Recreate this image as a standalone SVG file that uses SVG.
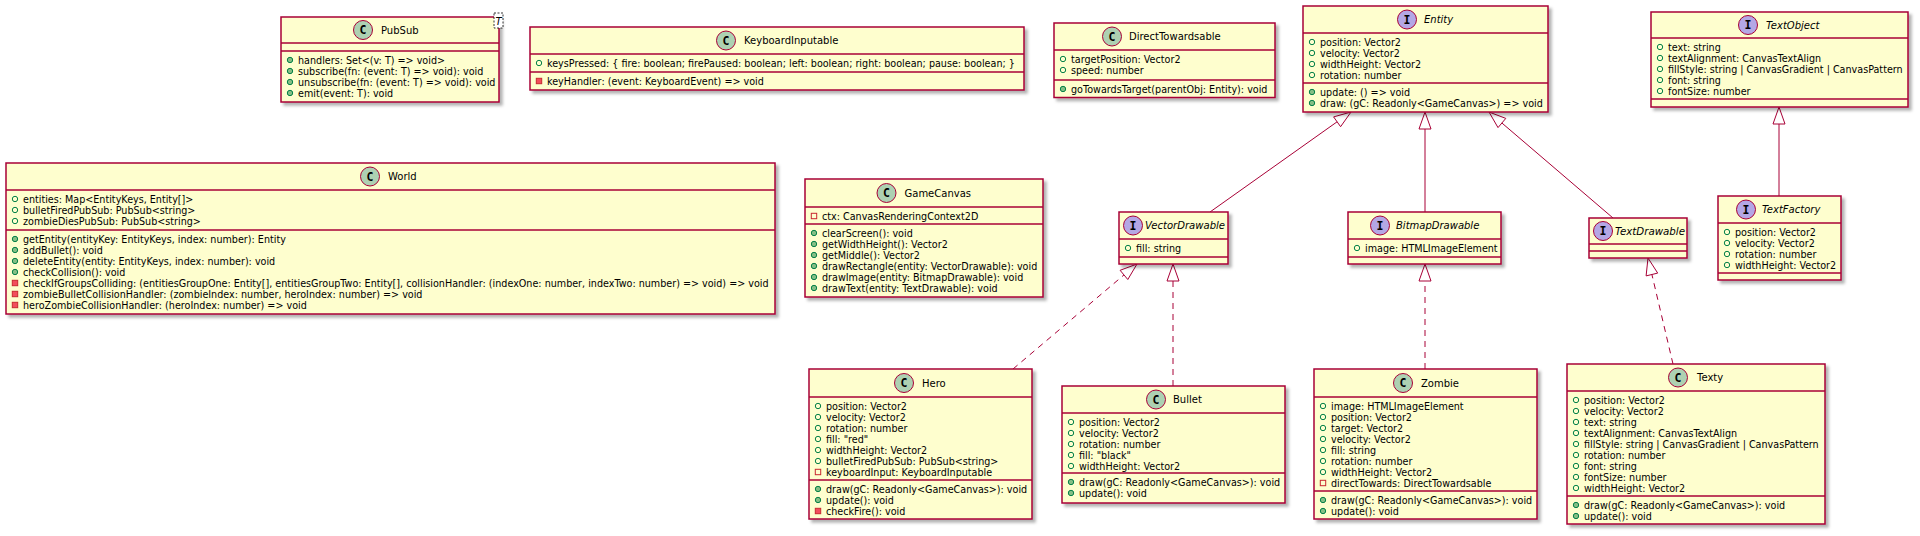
<svg xmlns="http://www.w3.org/2000/svg" xmlns:xlink="http://www.w3.org/1999/xlink" width="1920" height="536" viewBox="0 0 1920 536">
<defs>
<style>
.box{fill:#FEFECE;stroke:#A80036;stroke-width:1.5;filter:url(#sh)}
.dv{stroke:#A80036;stroke-width:1.5}
.m{font-family:'DejaVu Sans','Liberation Sans',sans-serif;font-size:9.6px;fill:#000}
.n{font-family:'DejaVu Sans','Liberation Sans',sans-serif;font-size:10px;fill:#000}
.i{font-style:italic}
.cc{fill:#ADD1B2;stroke:#A80036;stroke-width:1}
.ci{fill:#B4A7E5;stroke:#A80036;stroke-width:1}
.lt{font-family:'DejaVu Sans Mono','DejaVu Sans',monospace;font-weight:bold;font-size:11.5px;text-anchor:middle;fill:#000}
.ln{stroke:#A80036;stroke-width:1;fill:none}
.ds{stroke-dasharray:6,5}
.tri{fill:none;stroke:#A80036;stroke-width:1}
</style>
<filter id="sh" x="-3%" y="-5%" width="110%" height="125%"><feDropShadow dx="3" dy="3" stdDeviation="1.8" flood-color="#000" flood-opacity="0.3"/></filter>
<circle id="fp" r="2.7" fill="none" stroke="#038048" stroke-width="1"/>
<circle id="mp" r="2.7" fill="#84BE84" stroke="#038048" stroke-width="1"/>
<rect id="fv" x="-2.7" y="-2.7" width="5.4" height="5.4" fill="none" stroke="#C82930" stroke-width="1"/>
<rect id="mv" x="-2.7" y="-2.7" width="5.4" height="5.4" fill="#F24D5C" stroke="#C82930" stroke-width="1"/>
</defs>
<rect width="1920" height="536" fill="#FFFFFF"/>

<g id="connectors">
<line class="ln" x1="1210" y1="212" x2="1337.1" y2="121.8"/>
<polygon class="tri" points="1351,112 1340.6,126.7 1333.6,116.9"/>
<line class="ln" x1="1425" y1="212" x2="1425" y2="129"/>
<polygon class="tri" points="1425,112 1419,129 1431,129"/>
<line class="ln" x1="1613" y1="218" x2="1501.9" y2="123"/>
<polygon class="tri" points="1489,112 1505.8,118.4 1498,127.6"/>
<line class="ln" x1="1779" y1="196" x2="1779" y2="124"/>
<polygon class="tri" points="1779,107 1773,124 1785,124"/>
<line class="ln ds" x1="1013" y1="369" x2="1124" y2="274.9"/>
<polygon class="tri" points="1137,264 1127.8,279.5 1120.1,270.3"/>
<line class="ln ds" x1="1173" y1="386" x2="1173" y2="281"/>
<polygon class="tri" points="1173,264 1167,281 1179,281"/>
<line class="ln ds" x1="1425" y1="369" x2="1425" y2="281"/>
<polygon class="tri" points="1425,264 1419,281 1431,281"/>
<line class="ln ds" x1="1673" y1="364" x2="1651.9" y2="274.5"/>
<polygon class="tri" points="1648,258 1657.7,273.1 1646.1,275.9"/>
</g>

<g id="PubSub">
<rect class="box" x="281" y="17" width="218" height="85"/>
<line class="dv" x1="281" y1="43" x2="499" y2="43"/>
<line class="dv" x1="281" y1="51" x2="499" y2="51"/>
<circle class="cc" cx="363" cy="30" r="9.5"/><text class="lt" x="363" y="34">C</text>
<text class="n" x="381" y="33.5">PubSub</text>
<rect x="494" y="13" width="9" height="15" fill="#FFFFFF" stroke="#000" stroke-width="0.8" stroke-dasharray="2,1.5"/>
<text class="n i" x="498.5" y="24.5" text-anchor="middle" font-size="10px">T</text>
<use href="#mp" x="290" y="60"/><text class="m" x="298" y="63.5">handlers: Set&lt;(v: T) =&gt; void&gt;</text>
<use href="#mp" x="290" y="71"/><text class="m" x="298" y="74.5">subscribe(fn: (event: T) =&gt; void): void</text>
<use href="#mp" x="290" y="82"/><text class="m" x="298" y="85.5">unsubscribe(fn: (event: T) =&gt; void): void</text>
<use href="#mp" x="290" y="93"/><text class="m" x="298" y="96.5">emit(event: T): void</text>
</g>

<g id="KeyboardInputable">
<rect class="box" x="530" y="27" width="494" height="63"/>
<line class="dv" x1="530" y1="54" x2="1024" y2="54"/>
<line class="dv" x1="530" y1="72" x2="1024" y2="72"/>
<circle class="cc" cx="726" cy="40.5" r="9.5"/><text class="lt" x="726" y="44.5">C</text>
<text class="n" x="744" y="44">KeyboardInputable</text>
<use href="#fp" x="539" y="63"/><text class="m" x="547" y="66.5">keysPressed: { fire: boolean; firePaused: boolean; left: boolean; right: boolean; pause: boolean; }</text>
<use href="#mv" x="539" y="81"/><text class="m" x="547" y="84.5">keyHandler: (event: KeyboardEvent) =&gt; void</text>
</g>

<g id="DirectTowardsable">
<rect class="box" x="1054" y="23" width="221" height="74.5"/>
<line class="dv" x1="1054" y1="50" x2="1275" y2="50"/>
<line class="dv" x1="1054" y1="80" x2="1275" y2="80"/>
<circle class="cc" cx="1112" cy="36.5" r="9.5"/><text class="lt" x="1112" y="40.5">C</text>
<text class="n" x="1129" y="40">DirectTowardsable</text>
<use href="#fp" x="1063" y="59"/><text class="m" x="1071" y="62.5">targetPosition: Vector2</text>
<use href="#fp" x="1063" y="70"/><text class="m" x="1071" y="73.5">speed: number</text>
<use href="#mp" x="1063" y="89"/><text class="m" x="1071" y="92.5">goTowardsTarget(parentObj: Entity): void</text>
</g>

<g id="Entity">
<rect class="box" x="1303" y="6" width="245" height="106"/>
<line class="dv" x1="1303" y1="33" x2="1548" y2="33"/>
<line class="dv" x1="1303" y1="83" x2="1548" y2="83"/>
<circle class="ci" cx="1407" cy="19.5" r="9.5"/><text class="lt" x="1407" y="23.5">I</text>
<text class="n i" x="1424" y="23">Entity</text>
<use href="#fp" x="1312" y="42"/><text class="m" x="1320" y="45.5">position: Vector2</text>
<use href="#fp" x="1312" y="53"/><text class="m" x="1320" y="56.5">velocity: Vector2</text>
<use href="#fp" x="1312" y="64"/><text class="m" x="1320" y="67.5">widthHeight: Vector2</text>
<use href="#fp" x="1312" y="75"/><text class="m" x="1320" y="78.5">rotation: number</text>
<use href="#mp" x="1312" y="92"/><text class="m" x="1320" y="95.5">update: () =&gt; void</text>
<use href="#mp" x="1312" y="103"/><text class="m" x="1320" y="106.5">draw: (gC: Readonly&lt;GameCanvas&gt;) =&gt; void</text>
</g>

<g id="TextObject">
<rect class="box" x="1651" y="12" width="257" height="95"/>
<line class="dv" x1="1651" y1="38" x2="1908" y2="38"/>
<line class="dv" x1="1651" y1="99" x2="1908" y2="99"/>
<circle class="ci" cx="1748" cy="25" r="9.5"/><text class="lt" x="1748" y="29">I</text>
<text class="n i" x="1766" y="28.5">TextObject</text>
<use href="#fp" x="1660" y="47"/><text class="m" x="1668" y="50.5">text: string</text>
<use href="#fp" x="1660" y="58"/><text class="m" x="1668" y="61.5">textAlignment: CanvasTextAlign</text>
<use href="#fp" x="1660" y="69"/><text class="m" x="1668" y="72.5">fillStyle: string | CanvasGradient | CanvasPattern</text>
<use href="#fp" x="1660" y="80"/><text class="m" x="1668" y="83.5">font: string</text>
<use href="#fp" x="1660" y="91"/><text class="m" x="1668" y="94.5">fontSize: number</text>
</g>

<g id="World">
<rect class="box" x="6" y="163" width="769" height="151"/>
<line class="dv" x1="6" y1="190" x2="775" y2="190"/>
<line class="dv" x1="6" y1="230" x2="775" y2="230"/>
<circle class="cc" cx="370" cy="176.5" r="9.5"/><text class="lt" x="370" y="180.5">C</text>
<text class="n" x="388" y="180">World</text>
<use href="#fp" x="15" y="199"/><text class="m" x="23" y="202.5">entities: Map&lt;EntityKeys, Entity[]&gt;</text>
<use href="#fp" x="15" y="210"/><text class="m" x="23" y="213.5">bulletFiredPubSub: PubSub&lt;string&gt;</text>
<use href="#fp" x="15" y="221"/><text class="m" x="23" y="224.5">zombieDiesPubSub: PubSub&lt;string&gt;</text>
<use href="#mp" x="15" y="239"/><text class="m" x="23" y="242.5">getEntity(entityKey: EntityKeys, index: number): Entity</text>
<use href="#mp" x="15" y="250"/><text class="m" x="23" y="253.5">addBullet(): void</text>
<use href="#mp" x="15" y="261"/><text class="m" x="23" y="264.5">deleteEntity(entity: EntityKeys, index: number): void</text>
<use href="#mp" x="15" y="272"/><text class="m" x="23" y="275.5">checkCollision(): void</text>
<use href="#mv" x="15" y="283"/><text class="m" x="23" y="286.5">checkIfGroupsColliding: (entitiesGroupOne: Entity[], entitiesGroupTwo: Entity[], collisionHandler: (indexOne: number, indexTwo: number) =&gt; void) =&gt; void</text>
<use href="#mv" x="15" y="294"/><text class="m" x="23" y="297.5">zombieBulletCollisionHandler: (zombieIndex: number, heroIndex: number) =&gt; void</text>
<use href="#mv" x="15" y="305"/><text class="m" x="23" y="308.5">heroZombieCollisionHandler: (heroIndex: number) =&gt; void</text>
</g>

<g id="GameCanvas">
<rect class="box" x="805" y="179" width="238" height="118"/>
<line class="dv" x1="805" y1="207" x2="1043" y2="207"/>
<line class="dv" x1="805" y1="224" x2="1043" y2="224"/>
<circle class="cc" cx="886.5" cy="193" r="9.5"/><text class="lt" x="886.5" y="197">C</text>
<text class="n" x="904.5" y="196.5">GameCanvas</text>
<use href="#fv" x="814" y="216"/><text class="m" x="822" y="219.5">ctx: CanvasRenderingContext2D</text>
<use href="#mp" x="814" y="233"/><text class="m" x="822" y="236.5">clearScreen(): void</text>
<use href="#mp" x="814" y="244"/><text class="m" x="822" y="247.5">getWidthHeight(): Vector2</text>
<use href="#mp" x="814" y="255"/><text class="m" x="822" y="258.5">getMiddle(): Vector2</text>
<use href="#mp" x="814" y="266"/><text class="m" x="822" y="269.5">drawRectangle(entity: VectorDrawable): void</text>
<use href="#mp" x="814" y="277"/><text class="m" x="822" y="280.5">drawImage(entity: BitmapDrawable): void</text>
<use href="#mp" x="814" y="288"/><text class="m" x="822" y="291.5">drawText(entity: TextDrawable): void</text>
</g>

<g id="VectorDrawable">
<rect class="box" x="1119" y="212" width="109" height="52"/>
<line class="dv" x1="1119" y1="239" x2="1228" y2="239"/>
<line class="dv" x1="1119" y1="257" x2="1228" y2="257"/>
<circle class="ci" cx="1133" cy="225.5" r="9.5"/><text class="lt" x="1133" y="229.5">I</text>
<text class="n i" x="1145" y="229" textLength="80" lengthAdjust="spacingAndGlyphs">VectorDrawable</text>
<use href="#fp" x="1128" y="248"/><text class="m" x="1136" y="251.5">fill: string</text>
</g>

<g id="BitmapDrawable">
<rect class="box" x="1348" y="212" width="153" height="52"/>
<line class="dv" x1="1348" y1="239" x2="1501" y2="239"/>
<line class="dv" x1="1348" y1="257" x2="1501" y2="257"/>
<circle class="ci" cx="1380" cy="225.5" r="9.5"/><text class="lt" x="1380" y="229.5">I</text>
<text class="n i" x="1396" y="229">BitmapDrawable</text>
<use href="#fp" x="1357" y="248"/><text class="m" x="1365" y="251.5">image: HTMLImageElement</text>
</g>

<g id="TextDrawable">
<rect class="box" x="1589" y="218" width="98" height="40"/>
<line class="dv" x1="1589" y1="244" x2="1687" y2="244"/>
<line class="dv" x1="1589" y1="251" x2="1687" y2="251"/>
<circle class="ci" cx="1603" cy="231" r="9.5"/><text class="lt" x="1603" y="235">I</text>
<text class="n i" x="1615" y="234.5" textLength="70" lengthAdjust="spacingAndGlyphs">TextDrawable</text>
</g>

<g id="TextFactory">
<rect class="box" x="1718" y="196" width="123" height="84"/>
<line class="dv" x1="1718" y1="223" x2="1841" y2="223"/>
<line class="dv" x1="1718" y1="273" x2="1841" y2="273"/>
<circle class="ci" cx="1746" cy="209.5" r="9.5"/><text class="lt" x="1746" y="213.5">I</text>
<text class="n i" x="1762" y="213">TextFactory</text>
<use href="#fp" x="1727" y="232"/><text class="m" x="1735" y="235.5">position: Vector2</text>
<use href="#fp" x="1727" y="243"/><text class="m" x="1735" y="246.5">velocity: Vector2</text>
<use href="#fp" x="1727" y="254"/><text class="m" x="1735" y="257.5">rotation: number</text>
<use href="#fp" x="1727" y="265"/><text class="m" x="1735" y="268.5">widthHeight: Vector2</text>
</g>

<g id="Hero">
<rect class="box" x="809" y="369" width="223" height="150"/>
<line class="dv" x1="809" y1="397" x2="1032" y2="397"/>
<line class="dv" x1="809" y1="480" x2="1032" y2="480"/>
<circle class="cc" cx="904" cy="383" r="9.5"/><text class="lt" x="904" y="387">C</text>
<text class="n" x="922" y="386.5">Hero</text>
<use href="#fp" x="818" y="406"/><text class="m" x="826" y="409.5">position: Vector2</text>
<use href="#fp" x="818" y="417"/><text class="m" x="826" y="420.5">velocity: Vector2</text>
<use href="#fp" x="818" y="428"/><text class="m" x="826" y="431.5">rotation: number</text>
<use href="#fp" x="818" y="439"/><text class="m" x="826" y="442.5">fill: "red"</text>
<use href="#fp" x="818" y="450"/><text class="m" x="826" y="453.5">widthHeight: Vector2</text>
<use href="#fp" x="818" y="461"/><text class="m" x="826" y="464.5">bulletFiredPubSub: PubSub&lt;string&gt;</text>
<use href="#fv" x="818" y="472"/><text class="m" x="826" y="475.5">keyboardInput: KeyboardInputable</text>
<use href="#mp" x="818" y="489"/><text class="m" x="826" y="492.5">draw(gC: Readonly&lt;GameCanvas&gt;): void</text>
<use href="#mp" x="818" y="500"/><text class="m" x="826" y="503.5">update(): void</text>
<use href="#mv" x="818" y="511"/><text class="m" x="826" y="514.5">checkFire(): void</text>
</g>

<g id="Bullet">
<rect class="box" x="1062" y="386" width="223" height="117"/>
<line class="dv" x1="1062" y1="413" x2="1285" y2="413"/>
<line class="dv" x1="1062" y1="473" x2="1285" y2="473"/>
<circle class="cc" cx="1156" cy="399.5" r="9.5"/><text class="lt" x="1156" y="403.5">C</text>
<text class="n" x="1173" y="403">Bullet</text>
<use href="#fp" x="1071" y="422"/><text class="m" x="1079" y="425.5">position: Vector2</text>
<use href="#fp" x="1071" y="433"/><text class="m" x="1079" y="436.5">velocity: Vector2</text>
<use href="#fp" x="1071" y="444"/><text class="m" x="1079" y="447.5">rotation: number</text>
<use href="#fp" x="1071" y="455"/><text class="m" x="1079" y="458.5">fill: "black"</text>
<use href="#fp" x="1071" y="466"/><text class="m" x="1079" y="469.5">widthHeight: Vector2</text>
<use href="#mp" x="1071" y="482"/><text class="m" x="1079" y="485.5">draw(gC: Readonly&lt;GameCanvas&gt;): void</text>
<use href="#mp" x="1071" y="493"/><text class="m" x="1079" y="496.5">update(): void</text>
</g>

<g id="Zombie">
<rect class="box" x="1314" y="369" width="223" height="150"/>
<line class="dv" x1="1314" y1="397" x2="1537" y2="397"/>
<line class="dv" x1="1314" y1="491" x2="1537" y2="491"/>
<circle class="cc" cx="1403" cy="383" r="9.5"/><text class="lt" x="1403" y="387">C</text>
<text class="n" x="1421" y="386.5">Zombie</text>
<use href="#fp" x="1323" y="406"/><text class="m" x="1331" y="409.5">image: HTMLImageElement</text>
<use href="#fp" x="1323" y="417"/><text class="m" x="1331" y="420.5">position: Vector2</text>
<use href="#fp" x="1323" y="428"/><text class="m" x="1331" y="431.5">target: Vector2</text>
<use href="#fp" x="1323" y="439"/><text class="m" x="1331" y="442.5">velocity: Vector2</text>
<use href="#fp" x="1323" y="450"/><text class="m" x="1331" y="453.5">fill: string</text>
<use href="#fp" x="1323" y="461"/><text class="m" x="1331" y="464.5">rotation: number</text>
<use href="#fp" x="1323" y="472"/><text class="m" x="1331" y="475.5">widthHeight: Vector2</text>
<use href="#fv" x="1323" y="483"/><text class="m" x="1331" y="486.5">directTowards: DirectTowardsable</text>
<use href="#mp" x="1323" y="500"/><text class="m" x="1331" y="503.5">draw(gC: Readonly&lt;GameCanvas&gt;): void</text>
<use href="#mp" x="1323" y="511"/><text class="m" x="1331" y="514.5">update(): void</text>
</g>

<g id="Texty">
<rect class="box" x="1567" y="364" width="258" height="160"/>
<line class="dv" x1="1567" y1="391" x2="1825" y2="391"/>
<line class="dv" x1="1567" y1="496" x2="1825" y2="496"/>
<circle class="cc" cx="1678" cy="377.5" r="9.5"/><text class="lt" x="1678" y="381.5">C</text>
<text class="n" x="1697" y="381">Texty</text>
<use href="#fp" x="1576" y="400"/><text class="m" x="1584" y="403.5">position: Vector2</text>
<use href="#fp" x="1576" y="411"/><text class="m" x="1584" y="414.5">velocity: Vector2</text>
<use href="#fp" x="1576" y="422"/><text class="m" x="1584" y="425.5">text: string</text>
<use href="#fp" x="1576" y="433"/><text class="m" x="1584" y="436.5">textAlignment: CanvasTextAlign</text>
<use href="#fp" x="1576" y="444"/><text class="m" x="1584" y="447.5">fillStyle: string | CanvasGradient | CanvasPattern</text>
<use href="#fp" x="1576" y="455"/><text class="m" x="1584" y="458.5">rotation: number</text>
<use href="#fp" x="1576" y="466"/><text class="m" x="1584" y="469.5">font: string</text>
<use href="#fp" x="1576" y="477"/><text class="m" x="1584" y="480.5">fontSize: number</text>
<use href="#fp" x="1576" y="488"/><text class="m" x="1584" y="491.5">widthHeight: Vector2</text>
<use href="#mp" x="1576" y="505"/><text class="m" x="1584" y="508.5">draw(gC: Readonly&lt;GameCanvas&gt;): void</text>
<use href="#mp" x="1576" y="516"/><text class="m" x="1584" y="519.5">update(): void</text>
</g>
</svg>
